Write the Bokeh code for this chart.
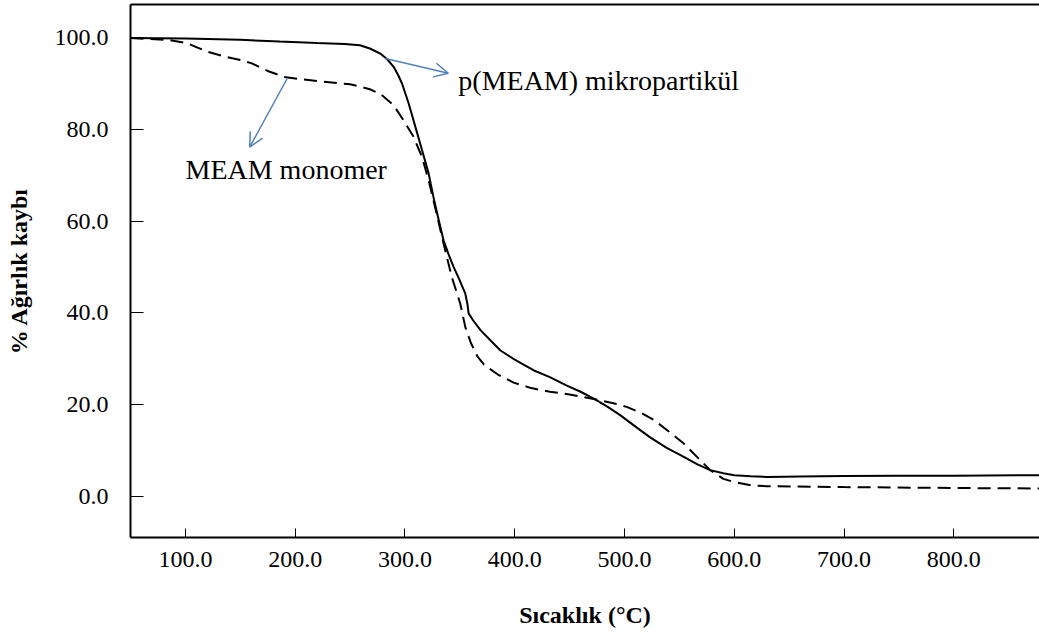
from bokeh.plotting import figure
from bokeh.models import (Range1d, FixedTicker, PrintfTickFormatter, LinearAxis,
                          Label, Arrow, OpenHead)
from bokeh.embed import file_html
from bokeh.resources import INLINE

# ---- data ----
temp_poly = [50, 100, 150, 186, 220, 245, 259, 268, 277.6, 284, 289.7, 294, 297.4,
             303.4, 309.5, 315.6, 321.6, 326.2, 331, 335.2, 340, 344.4, 349, 355,
             357, 358, 362, 369, 378, 387, 400, 417, 432, 447, 460, 472, 484, 496,
             510, 523, 538, 554, 566, 578, 590, 600, 615, 630, 660, 700, 750, 800, 880]
mass_poly = [100.0, 99.9, 99.6, 99.2, 98.9, 98.7, 98.4, 97.7, 96.6, 95.3, 93.7, 91.8,
             90.0, 85.7, 80.6, 75.5, 70.4, 65.0, 60.0, 55.8, 52.6, 50.0, 47.6, 44.2,
             41.8, 39.9, 38.4, 36.2, 34.0, 31.8, 29.8, 27.5, 26.0, 24.2, 22.8, 21.3,
             19.6, 17.7, 15.2, 12.9, 10.6, 8.6, 7.0, 5.7, 5.0, 4.6, 4.35, 4.2, 4.3,
             4.4, 4.45, 4.5, 4.6]

temp_mono = [50, 86, 101, 110, 120, 135, 150, 160, 175, 190, 205, 220, 250, 259, 268,
             277.6, 289.7, 298.8, 307.9, 315.6, 321.6, 328, 335.2, 342.7, 350.4, 355,
             360, 366, 372, 385, 399, 415, 432, 450, 472, 490, 502, 515, 527, 540, 554,
             566, 578, 590, 600, 615, 630, 700, 800, 880]
mass_mono = [100.0, 99.5, 98.9, 98.0, 97.0, 96.0, 95.2, 94.5, 92.8, 91.5, 91.0, 90.6,
             89.9, 89.4, 88.8, 87.8, 85.3, 82.0, 78.4, 74.0, 68.9, 62.5, 55.1, 47.8,
             42.0, 36.9, 33.5, 30.5, 28.7, 26.5, 24.8, 23.6, 22.8, 22.2, 21.2, 20.3,
             19.5, 18.2, 16.6, 14.2, 11.5, 8.6, 5.7, 3.8, 3.1, 2.4, 2.2, 2.0, 1.8, 1.7]

x_ticks = [100, 200, 300, 400, 500, 600, 700, 800]
y_ticks = [0, 20, 40, 60, 80, 100]

label_poly = "p(MEAM) mikropartikül"
label_mono = "MEAM monomer"
x_title = "Sıcaklık (°C)"
y_title = "% Ağırlık kaybı"

# annotation anchors (data units)
poly_text_pos = (348.6, 90.8)
mono_text_pos = (100.1, 71.4)
poly_arrow = (282.2, 95.5, 339.5, 92.3)
mono_arrow = (192.6, 91.1, 158.6, 76.2)

FONT = "Liberation Serif"
BLUE = "#4f81bd"

p = figure(width=1039, height=636, output_backend="svg", toolbar_location=None,
           x_range=Range1d(50, 878), y_range=Range1d(-9.0, 107.3),
           min_border_left=130, min_border_right=0, min_border_top=4,
           min_border_bottom=99)
p.outline_line_color = None
p.grid.visible = False
p.background_fill_color = "white"
p.border_fill_color = "white"

p.line(temp_poly, mass_poly, line_color="black", line_width=2)
p.line(temp_mono, mass_mono, line_color="black", line_width=2, line_dash="13 7")

xa = p.xaxis[0]
ya = p.yaxis[0]
for ax in (xa, ya):
    ax.axis_line_color = "black"
    ax.axis_line_width = 2
    ax.major_tick_line_color = "black"
    ax.major_tick_line_width = 1
    ax.major_tick_out = 0
    ax.minor_tick_line_color = None
    ax.major_label_text_font = FONT
    ax.major_label_text_font_size = "24px"
    ax.major_label_text_color = "black"
    ax.axis_label_text_font = FONT
    ax.axis_label_text_font_size = "24px"
    ax.axis_label_text_font_style = "bold"
    ax.axis_label_text_color = "black"
    ax.formatter = PrintfTickFormatter(format="%.1f")

xa.ticker = FixedTicker(ticks=x_ticks)
xa.major_tick_in = 9
xa.major_label_standoff = 14
xa.axis_label = x_title
xa.axis_label_standoff = 32

ya.ticker = FixedTicker(ticks=y_ticks)
ya.major_tick_in = 13
ya.major_label_standoff = 22
ya.axis_label = y_title
ya.axis_label_standoff = 20

top = LinearAxis(ticker=FixedTicker(ticks=[]), axis_line_color="black", axis_line_width=2,
                 major_tick_line_color=None, minor_tick_line_color=None,
                 major_label_text_font=FONT)
p.add_layout(top, "above")

p.add_layout(Label(x=poly_text_pos[0], y=poly_text_pos[1], text=label_poly,
                   text_font=FONT, text_font_size="28px", text_color="black",
                   text_baseline="alphabetic"))
p.add_layout(Label(x=mono_text_pos[0], y=mono_text_pos[1], text=label_mono,
                   text_font=FONT, text_font_size="28px", text_color="black",
                   text_baseline="alphabetic"))

for (xs, ys, xe, ye) in (poly_arrow, mono_arrow):
    p.add_layout(Arrow(end=OpenHead(line_color=BLUE, line_width=1.5, size=14),
                       x_start=xs, y_start=ys, x_end=xe, y_end=ye,
                       line_color=BLUE, line_width=1.5))

open("out.html", "w").write(file_html(p, INLINE))
